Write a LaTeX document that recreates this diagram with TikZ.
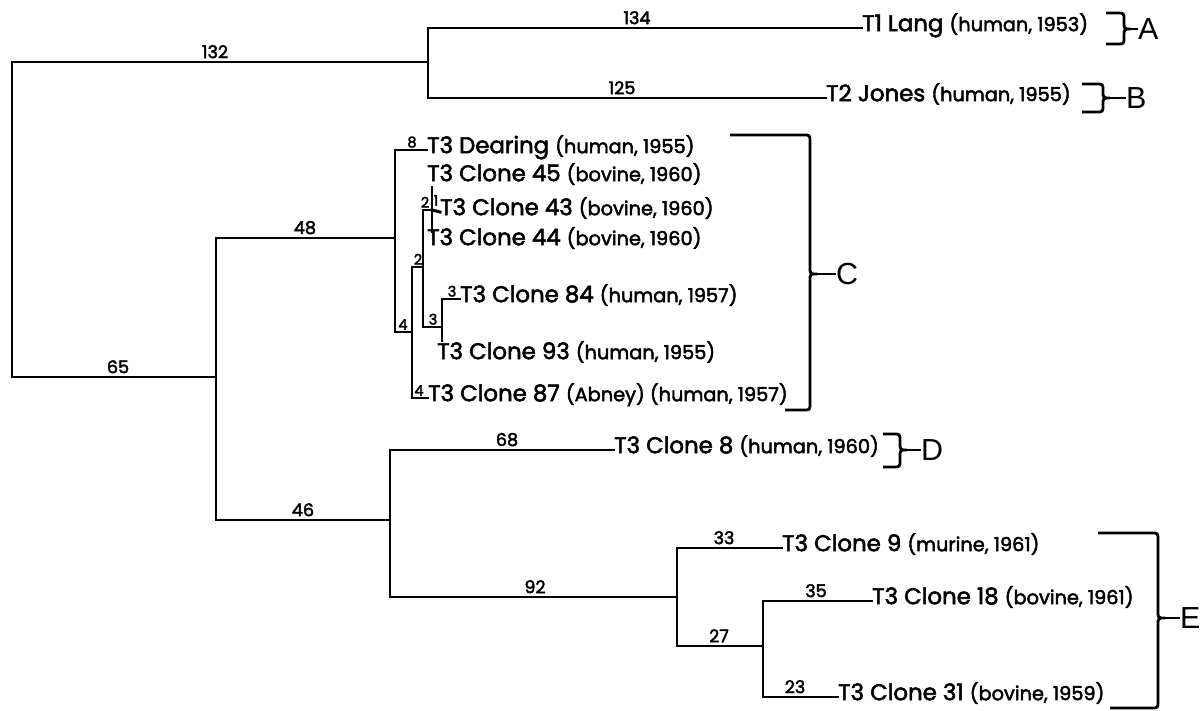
\documentclass[tikz,border=0pt]{standalone}
\usepackage{fontspec}
\setmainfont{Poppins}[FakeBold=2.4]
\newfontfamily\grpfont{Liberation Sans}
\newcommand\leafsize{\fontsize{19.5}{22}\selectfont}
\newcommand\parsize{\fontsize{16.5}{19}\selectfont}
\newcommand\numsize{\fontsize{15}{17}\selectfont}
\newcommand\smallnum{\fontsize{12.5}{14}\selectfont}
\newcommand\lf[2]{#1 {\parsize#2}}
\newcommand\grpbrace[6]{%
  \draw[brace] (#1,#4) -- ({#3-7},#4) .. controls (#3,#4) .. (#3,{#4+7})
    -- (#3,{#5-7}) .. controls (#3,#5) .. ({#3+7},#5)
    .. controls (#3,#5) .. (#3,{#5+7}) -- (#3,{#6-7})
    .. controls (#3,#6) .. ({#3-7},#6) -- (#2,#6);}
\begin{document}
\begin{tikzpicture}[x=0.03cm,y=-0.03cm,
  tree/.style={line width=2.5pt, line cap=rect},
  brace/.style={line width=2.4pt},
  leaf/.style={anchor=mid west, inner sep=0pt, font=\leafsize},
  bl/.style={anchor=south, inner sep=3pt, font=\numsize},
  sbl/.style={anchor=south, inner sep=1.8pt, font=\smallnum},
  grp/.style={anchor=west, inner sep=0pt, font=\grpfont\fontsize{26}{28}\selectfont}]
\useasboundingbox (0,0) rectangle (1204,711);
% internal nodes
\coordinate (R) at (12,220);
\coordinate (AB) at (428,62);
\coordinate (CDE) at (216,377);
\coordinate (C) at (395,238);
\coordinate (C2) at (412,332);
\coordinate (C3) at (423,267);
\coordinate (C4) at (432,210);
\coordinate (C4t) at (432,187);
\coordinate (C4b) at (432,232);
\coordinate (C5) at (442,327);
\coordinate (DE) at (390,520);
\coordinate (E) at (677,597);
\coordinate (E2) at (763,646);
% leaves
\node[leaf] (lang) at (862,28) {\lf{T1 Lang}{(human, 1953)}};
\node[leaf] (jones) at (826,98) {\lf{T2 Jones}{(human, 1955)}};
\node[leaf] (dear) at (427,150) {\lf{T3 Dearing}{(human, 1955)}};
\node[leaf] (c45) at (427,178) {\lf{T3 Clone 45}{(bovine, 1960)}};
\node[leaf] (c43) at (440,212) {\lf{T3 Clone 43}{(bovine, 1960)}};
\node[leaf] (c44) at (427,242) {\lf{T3 Clone 44}{(bovine, 1960)}};
\node[leaf] (c84) at (460,299) {\lf{T3 Clone 84}{(human, 1957)}};
\node[leaf] (c93) at (437,356) {\lf{T3 Clone 93}{(human, 1955)}};
\node[leaf] (c87) at (428,398) {\lf{T3 Clone 87}{(Abney) (human, 1957)}};
\node[leaf] (c8) at (614,450) {\lf{T3 Clone 8}{(human, 1960)}};
\node[leaf] (c9) at (782,548) {\lf{T3 Clone 9}{(murine, 1961)}};
\node[leaf] (c18) at (872,601) {\lf{T3 Clone 18}{(bovine, 1961)}};
\node[leaf] (c31) at (838,697) {\lf{T3 Clone 31}{(bovine, 1959)}};
% branches
\draw[tree] (R) |- (AB);
\draw[tree] (R) |- (CDE);
\draw[tree] (AB) |- (lang.mid west);
\draw[tree] (AB) |- (jones.mid west);
\draw[tree] (CDE) |- (C);
\draw[tree] (CDE) |- (DE);
\draw[tree] (C) |- (dear.mid west);
\draw[tree] (C) |- (C2);
\draw[tree] (C2) |- (C3);
\draw[tree] (C2) |- (c87.mid west);
\draw[tree] (C3) |- (C4);
\draw[tree] (C3) |- (C5);
\draw[tree] (C4) -- (c43.mid west);
\draw[tree] (C4t) -- (C4b);
\draw[tree] (C5) |- (c84.mid west);
\draw[tree] (C5) -- (C5 |- c93.north);
\draw[tree] (DE) |- (c8.mid west);
\draw[tree] (DE) |- (E);
\draw[tree] (E) |- (c9.mid west);
\draw[tree] (E) |- (E2);
\draw[tree] (E2) |- (c18.mid west);
\draw[tree] (E2) |- (c31.mid west);
% branch lengths
\node[bl] (n132) at (215,62) {132};
\node[bl] (n65) at (118,377) {65};
\node[bl] (n134) at (637,28) {134};
\node[bl] (n125) at (622,98) {125};
\node[bl] (n48) at (305,238) {48};
\node[bl] (n46) at (303,520) {46};
\node[sbl] (n8) at (412,150) {8};
\node[sbl] (n2a) at (425,210) {2};
\node[sbl] (n1) at (436,208) {1};
\node[sbl] (n2b) at (418,267) {2};
\node[sbl] (n4a) at (403,332) {4};
\node[sbl] (n3a) at (433,327) {3};
\node[sbl] (n3b) at (452,299) {3};
\node[sbl] (n4b) at (419,398) {4};
\node[bl] (n68) at (507,450) {68};
\node[bl] (n92) at (535,597) {92};
\node[bl] (n33) at (724,548) {33};
\node[bl] (n27) at (719,646) {27};
\node[bl] (n35) at (816,601) {35};
\node[bl] (n23) at (795,697) {23};
% group braces
\grpbrace{1106}{1106}{1124}{13}{29}{44}
\coordinate (tA) at (1131,29);
\node[grp] (gA) at (1138,29) {A};
\draw[brace] (tA) -- (gA.west);
\grpbrace{1082}{1082}{1103}{84}{98}{112}
\coordinate (tB) at (1110,98);
\node[grp] (gB) at (1126,98) {B};
\draw[brace] (tB) -- (gB.west);
\grpbrace{730}{785}{810}{135}{274}{410}
\coordinate (tC) at (817,274);
\node[grp] (gC) at (836,274) {C};
\draw[brace] (tC) -- (gC.west);
\grpbrace{883}{883}{900}{434}{450}{467}
\coordinate (tD) at (907,450);
\node[grp] (gD) at (921,450) {D};
\draw[brace] (tD) -- (gD.west);
\grpbrace{1098}{1110}{1158}{533}{618}{708}
\coordinate (tE) at (1165,618);
\node[grp] (gE) at (1180,618) {E};
\draw[brace] (tE) -- (gE.west);
\end{tikzpicture}
\end{document}
